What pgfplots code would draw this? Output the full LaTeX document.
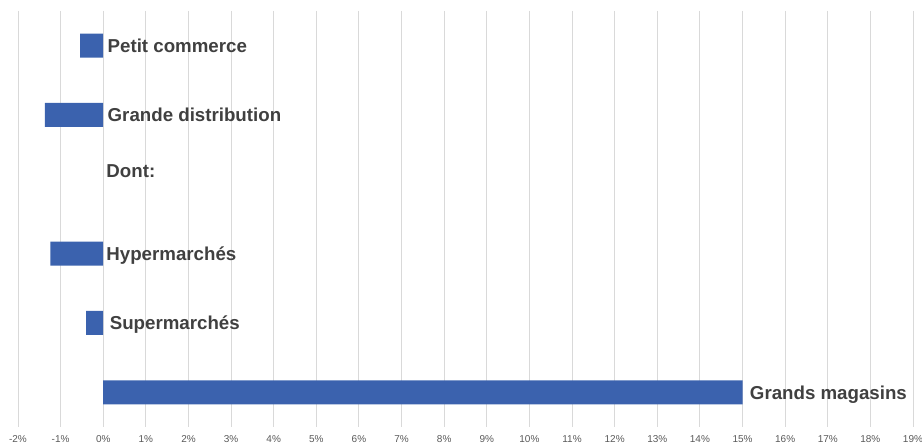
\documentclass[border=0pt]{standalone}
\usepackage{pgfplots}
\pgfplotsset{compat=1.18}
\usepackage{pgfplotstable}
\usepackage{fontspec}
\setmainfont{Liberation Sans}
\definecolor{barblue}{RGB}{59,98,174}
\definecolor{labgrey}{RGB}{64,64,64}
\definecolor{tickgrey}{RGB}{89,89,89}
\definecolor{gridgrey}{RGB}{217,217,217}

% y = category index, top to bottom
\pgfplotstableread{
y   v
0   -0.54
1   -1.37
3   -1.24
4   -0.40
5   15.00
}\bars

\pgfplotstableread[col sep=comma]{
x,y,lab
0.10,0,Petit commerce
0.10,1,Grande distribution
0.07,1.81,Dont:
0.07,3,Hypermarchés
0.15,4,Supermarchés
15.17,5,Grands magasins
}\labels

\begin{document}
\begin{tikzpicture}[x=1pt,y=1pt]
\begin{axis}[
  at={(0,0)}, anchor=south west,
  scale only axis,
  width=895pt, height=416pt,
  xmin=-2, xmax=19,
  ymin=-0.5, ymax=5.5,
  y dir=reverse,
  xtick={-2,-1,...,19},
  xticklabels={-2\%,-1\%,0\%,1\%,2\%,3\%,4\%,5\%,6\%,7\%,8\%,9\%,10\%,11\%,12\%,13\%,14\%,15\%,16\%,17\%,18\%,19\%},
  ytick=\empty,
  xmajorgrids,
  grid style={gridgrey, line width=1pt},
  axis line style={draw=none},
  major tick style={draw=none},
  xticklabel style={font=\fontsize{10}{12}\selectfont, text=tickgrey, anchor=north, inner sep=0pt, yshift=-8.5pt},
  clip=false,
]
\addplot[xbar, bar width=24pt, bar shift=0pt, fill=barblue, draw=none]
  table[x=v, y=y] {\bars};
\addplot[only marks, mark=none,
  nodes near coords, point meta=explicit symbolic,
  every node near coord/.style={anchor=base west, inner sep=0pt, yshift=-6.7pt,
    font=\fontsize{18.7}{21}\selectfont\bfseries, text=labgrey}]
  table[x=x, y=y, meta=lab, col sep=comma] {\labels};
\end{axis}
\pgfresetboundingbox
\useasboundingbox (-18pt,-19pt) rectangle (904pt,427pt);
\end{tikzpicture}
\end{document}
